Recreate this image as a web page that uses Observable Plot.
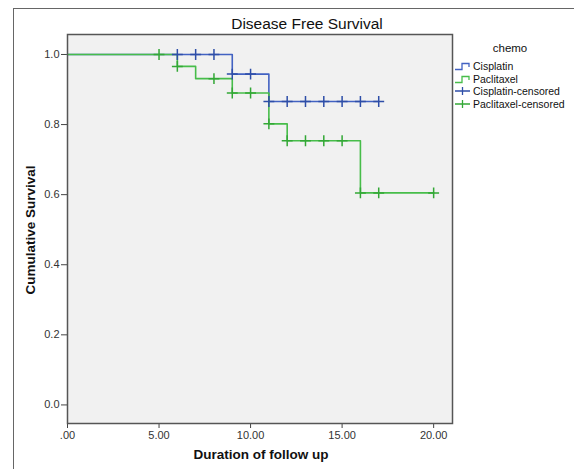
<!DOCTYPE html>
<html>
<head>
<meta charset="utf-8">
<script src="https://cdn.jsdelivr.net/npm/d3@7"></script>
<script src="https://cdn.jsdelivr.net/npm/@observablehq/plot@0.6"></script>
<style>
  html, body { margin: 0; padding: 0; background: #fff; overflow: hidden; }
  body { width: 574px; height: 469px; position: relative; font-family: "Liberation Sans", Arial, sans-serif; }
  #outer { position: absolute; left: 13px; top: 8px; width: 700px; height: 600px; border-left: 1.5px solid #666; border-top: 1.5px solid #666; }
  #chart { position: absolute; left: 0; top: 0; }
  .lbl { position: absolute; color: #111; white-space: nowrap; }
  #title { left: 307px; top: 15px; transform: translateX(-50%); font-size: 15.5px; }
  #xlab { left: 261px; top: 447px; transform: translateX(-50%); font-size: 13.5px; font-weight: bold; }
  #ylab { left: 30px; top: 230px; transform: translate(-50%, -50%) rotate(-90deg); font-size: 13.5px; font-weight: bold; }
  #legend { position: absolute; left: 455px; top: 40px; width: 119px; height: 80px; font-size: 10.5px; color: #111; }
  #legend .ttl { position: absolute; left: 35px; top: 2px; font-size: 11.5px; width: 40px; text-align: center; white-space: nowrap; }
  #legend .row { position: absolute; left: 0; height: 12px; display: flex; align-items: center; white-space: nowrap; }
  #legend .row svg { margin-right: 2px; flex: none; }
</style>
</head>
<body>
<div id="outer"></div>
<div id="chart"></div>
<div class="lbl" id="title">Disease Free Survival</div>
<div class="lbl" id="xlab">Duration of follow up</div>
<div class="lbl" id="ylab">Cumulative Survival</div>
<div id="legend"></div>
<script>
// Data
const seriesNames = ["Cisplatin", "Paclitaxel"];
const legendLabels = ["Cisplatin", "Paclitaxel", "Cisplatin-censored", "Paclitaxel-censored"];
const legendTitle = "chemo";

// Step-curve vertices (time, cumulative survival)
const cisTimes = [0, 9, 11, 17];
const cisSurv  = [1.0, 0.944, 0.866, 0.866];
const pacTimes = [0, 6, 7, 9, 11, 12, 16, 20];
const pacSurv  = [1.0, 0.966, 0.931, 0.890, 0.802, 0.754, 0.605, 0.605];

// Censored observations
const cisCensTimes = [6, 7, 8, 9, 10, 11, 12, 13, 14, 15, 16, 17];
const cisCensSurv  = [1.0, 1.0, 1.0, 0.944, 0.944, 0.866, 0.866, 0.866, 0.866, 0.866, 0.866, 0.866];
const pacCensTimes = [5, 6, 8, 9, 10, 11, 12, 13, 14, 15, 16, 17, 20];
const pacCensSurv  = [1.0, 0.966, 0.931, 0.890, 0.890, 0.802, 0.754, 0.754, 0.754, 0.754, 0.605, 0.605, 0.605];

const xTicks = [0, 5, 10, 15, 20];
const xTickLabels = [".00", "5.00", "10.00", "15.00", "20.00"];
const yTicks = [0, 0.2, 0.4, 0.6, 0.8, 1.0];
const yTickLabels = ["0.0", "0.2", "0.4", "0.6", "0.8", "1.0"];

const BLUE = "#4262c2";
const GREEN = "#47bd4a";
const BLUE_D = "#2e4ea8";
const GREEN_D = "#33a836";

const toRows = (ts, ss) => ts.map((t, i) => ({t, s: ss[i]}));
const cis = toRows(cisTimes, cisSurv);
const pac = toRows(pacTimes, pacSurv);
const cisC = toRows(cisCensTimes, cisCensSurv);
const pacC = toRows(pacCensTimes, pacCensSurv);

const chart = Plot.plot({
  width: 574,
  height: 469,
  marginLeft: 67,
  marginRight: 122,
  marginTop: 34,
  marginBottom: 46,
  x: {domain: [0, 21.03]},
  y: {domain: [-0.053, 1.057]},
  style: {fontFamily: "'Liberation Sans', Arial, sans-serif", fontSize: "11px", color: "#333", background: "transparent"},
  marks: [
    Plot.frame({fill: "#f1f1f1", stroke: null}),
    Plot.axisX({ticks: xTicks, tickFormat: d => xTickLabels[xTicks.indexOf(d)], tickSize: 5, tickPadding: 3, label: null, stroke: "#444"}),
    Plot.axisY({ticks: yTicks, tickFormat: d => yTickLabels[yTicks.indexOf(d)], tickSize: 6, tickPadding: 2, label: null, stroke: "#444"}),
    Plot.line(cis, {x: "t", y: "s", curve: "step-after", stroke: BLUE, strokeWidth: 1.6}),
    Plot.line(pac, {x: "t", y: "s", curve: "step-after", stroke: GREEN, strokeWidth: 1.6}),
    Plot.dot(cisC, {x: "t", y: "s", symbol: "plus", r: 3.6, stroke: BLUE_D, strokeWidth: 1.5}),
    Plot.dot(pacC, {x: "t", y: "s", symbol: "plus", r: 3.6, stroke: GREEN_D, strokeWidth: 1.5}),
    Plot.frame({stroke: "#555", strokeWidth: 1.5})
  ]
});
document.getElementById("chart").appendChild(chart);

// Legend
const legend = document.getElementById("legend");
const ttl = document.createElement("div");
ttl.className = "ttl";
ttl.textContent = legendTitle;
legend.appendChild(ttl);
const legendColors = [BLUE, GREEN, BLUE_D, GREEN_D];
const rowTops = [20, 32.5, 45, 57.5];
legendLabels.forEach((lab, i) => {
  const row = document.createElement("div");
  row.className = "row";
  row.style.top = rowTops[i] + "px";
  const c = legendColors[i];
  const icon = i < 2
    ? `<svg width="16" height="12"><path d="M0,9.5H7V3.5H14V7" fill="none" stroke="${c}" stroke-width="1.3"/></svg>`
    : `<svg width="16" height="12"><path d="M0,6H15M7.5,2V10" fill="none" stroke="${c}" stroke-width="1.3"/></svg>`;
  row.innerHTML = icon + `<span>${lab}</span>`;
  legend.appendChild(row);
});
</script>
</body>
</html>
